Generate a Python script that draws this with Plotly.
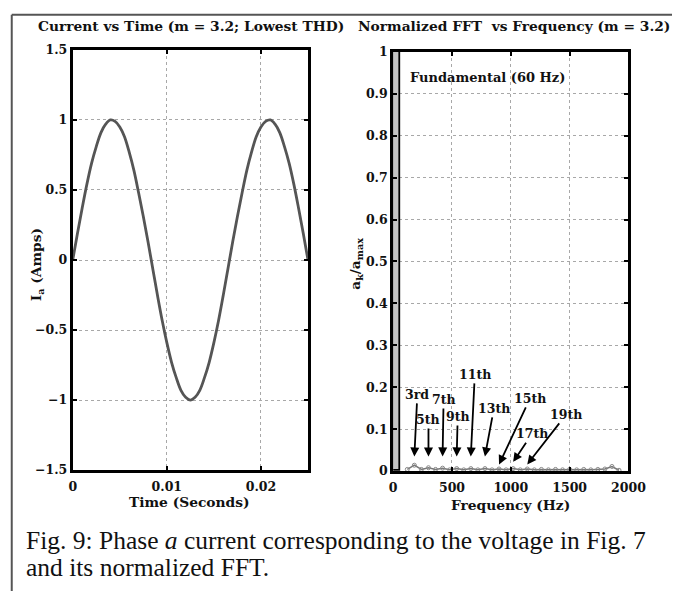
import plotly.graph_objects as go

# Phase-a current samples (A) every 0.5 ms over 25 ms
t_step = 0.0005
current_a = [0.0, 0.19, 0.37, 0.54, 0.69, 0.81, 0.91, 0.97, 1.0, 0.99,
             0.95, 0.88, 0.77, 0.64, 0.48, 0.31, 0.13, -0.06, -0.25, -0.43,
             -0.59, -0.73, -0.84, -0.93, -0.98, -1.0, -0.98, -0.93, -0.84, -0.73,
             -0.59, -0.43, -0.25, -0.06, 0.13, 0.31, 0.48, 0.64, 0.77, 0.88,
             0.95, 0.99, 1.0, 0.97, 0.91, 0.81, 0.69, 0.54, 0.37, 0.19, 0.0]
time_s = [round(i * t_step, 4) for i in range(len(current_a))]

# Normalized FFT magnitudes (a_k / a_max)
fund_freq = 60
fund_mag = 1.0
harm_freq = [120, 180, 240, 300, 360, 420, 480, 540, 600, 660, 720, 780, 840,
             900, 960, 1020, 1080, 1140, 1200, 1260, 1320, 1380, 1440, 1500,
             1560, 1620, 1680, 1740, 1800, 1860, 1920]
harm_mag = [0.004, 0.014, 0.004, 0.008, 0.004, 0.007, 0.003, 0.006, 0.003, 0.006,
            0.003, 0.006, 0.003, 0.005, 0.003, 0.006, 0.003, 0.005, 0.003, 0.004,
            0.003, 0.004, 0.003, 0.004, 0.003, 0.004, 0.003, 0.004, 0.005, 0.011, 0.002]

# Harmonic callouts: label, harmonic order, arrow tip height, label offset (px)
callout_labels = ["3rd", "5th", "7th", "9th", "11th", "13th", "15th", "17th", "19th"]
callout_orders = [3, 5, 7, 9, 11, 13, 15, 17, 19]
callout_tip_y = [0.035, 0.035, 0.035, 0.035, 0.035, 0.035, 0.016, 0.022, 0.016]
callout_ax = [3, 0, 1, 1, 4, 9, 31, 19, 39]
callout_ay = [-62, -37, -57, -40, -82, -48, -66, -28, -50]

left_yticks = [-1.5, -1, -0.5, 0, 0.5, 1, 1.5]
left_ytext = ["\u22121.5", "\u22121", "\u22120.5", "0", "0.5", "1", "1.5"]
left_xticks = [0, 0.01, 0.02]
right_yticks = [0, 0.1, 0.2, 0.3, 0.4, 0.5, 0.6, 0.7, 0.8, 0.9, 1]
right_xticks = [0, 500, 1000, 1500, 2000]

SERIF = "Liberation Serif"
BOLD = "DejaVu Serif"
W, H = 690, 598

fig = go.Figure()

fig.add_trace(go.Scatter(x=time_s, y=current_a, mode="lines",
                         line=dict(color="#555555", width=2.8, shape="spline"),
                         xaxis="x", yaxis="y", showlegend=False))

fig.add_trace(go.Bar(x=[fund_freq], y=[fund_mag], width=[fund_freq], offset=-fund_freq,
                     marker=dict(color="#c4c4c4", line=dict(color="black", width=1.8)),
                     xaxis="x2", yaxis="y2", showlegend=False))

fig.add_trace(go.Scatter(x=harm_freq, y=harm_mag, mode="lines+markers",
                         line=dict(color="#777777", width=1.5),
                         marker=dict(symbol="circle-open", size=4, color="#888888"),
                         xaxis="x2", yaxis="y2", showlegend=False))

tickfont = dict(family=BOLD, size=12.5, color="#111111", weight="bold")
axis_common = dict(showline=True, linecolor="black", linewidth=3, mirror="ticks",
                   ticks="inside", ticklen=4, tickwidth=2, tickcolor="black",
                   showgrid=True, gridcolor="#a8a8a8", griddash="dot", gridwidth=1,
                   zeroline=False, tickfont=tickfont)

def px_x(a, b):
    return [a / W, b / W]

def px_y(top, bottom):
    return [(H - bottom) / H, (H - top) / H]

fig.update_layout(
    width=W, height=H, margin=dict(l=0, r=0, t=0, b=0),
    paper_bgcolor="white", plot_bgcolor="white", bargap=0,
    font=dict(family=SERIF, color="black"),
    xaxis=dict(domain=px_x(71, 314), range=[0, 0.025], tickvals=left_xticks,
               ticktext=["0", "0.01", "0.02"], anchor="y", ticklabelstandoff=3,
               **axis_common),
    yaxis=dict(domain=px_y(43, 474), range=[-1.5, 1.5], tickvals=left_yticks,
               ticktext=left_ytext, anchor="x", **axis_common),
    xaxis2=dict(domain=px_x(402, 645), range=[0, 2000], tickvals=right_xticks,
                anchor="y2", ticklabelstandoff=3, **axis_common),
    yaxis2=dict(domain=px_y(45, 475), range=[0, 1], tickvals=right_yticks,
                ticktext=[f"{v:g}" for v in right_yticks], anchor="x2", **axis_common),
)

ann = []

def paper_text(x, y, text, size, family=BOLD, weight="bold", angle=0, xanchor="center"):
    ann.append(dict(xref="paper", yref="paper", x=x / W, y=1 - y / H, text=text,
                    showarrow=False, textangle=angle, xanchor=xanchor, yanchor="middle",
                    font=dict(family=family, size=size, color="#111111", weight=weight)))

paper_text(193, 18, "Current vs Time (m = 3.2; Lowest THD)", 13.8)
paper_text(527, 18, "Normalized FFT&nbsp; vs Frequency (m = 3.2)", 13.8)
paper_text(192, 507, "Time (Seconds)", 13.8)
paper_text(523, 510, "Frequency (Hz)", 13.8)
paper_text(35, 263, "I<sub>a</sub> (Amps)", 13.8, angle=-90)
paper_text(364, 262, "a<sub>k</sub>/a<sub>max</sub>", 13.8, angle=-90)
paper_text(21, 546, "Fig. 9: Phase <i>a</i> current corresponding to the voltage in Fig. 7",
           25.5, family=SERIF, weight="normal", xanchor="left")
paper_text(21, 574, "and its normalized FFT.", 25.5, family=SERIF, weight="normal",
           xanchor="left")

ann.append(dict(xref="x2", yref="y2", x=123, y=0.94, text="Fundamental (60 Hz)",
                showarrow=False, xanchor="left", yanchor="middle",
                font=dict(family=BOLD, size=13, color="#111111", weight="bold")))

for lab, order, ty, ax, ay in zip(callout_labels, callout_orders, callout_tip_y,
                                  callout_ax, callout_ay):
    ann.append(dict(xref="x2", yref="y2", x=order * fund_freq, y=ty, text=lab,
                    showarrow=True, arrowhead=2, arrowsize=1, arrowwidth=1.8,
                    arrowcolor="black", ax=ax, ay=ay, standoff=0,
                    font=dict(family=BOLD, size=12.5, color="#111111", weight="bold")))

fig.update_layout(annotations=ann)

# Surrounding figure frame (top and left rules)
fig.add_shape(type="line", xref="paper", yref="paper", x0=8 / W, x1=1, y0=1 - 7 / H,
              y1=1 - 7 / H, line=dict(color="#555555", width=2))
fig.add_shape(type="line", xref="paper", yref="paper", x0=8 / W, x1=8 / W, y0=0,
              y1=1 - 7 / H, line=dict(color="#555555", width=2))

fig.write_html("out.html")
